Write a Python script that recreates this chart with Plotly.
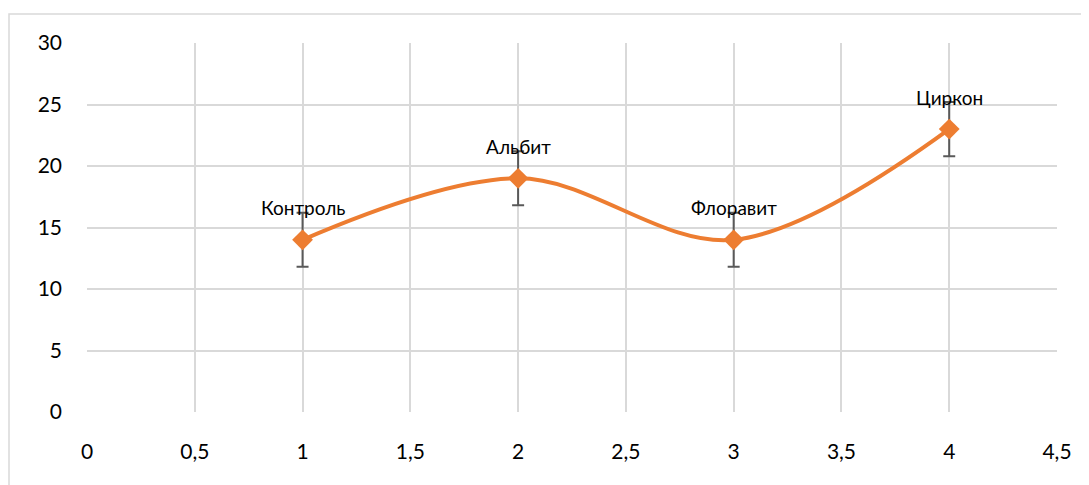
import plotly.graph_objects as go

x_vals = [1, 2, 3, 4]
y_vals = [14, 19, 14, 23]
err_vals = [2.2, 2.2, 2.2, 2.2]
labels = ["Контроль", "Альбит", "Флоравит", "Циркон"]
x_ticks = [0, 0.5, 1, 1.5, 2, 2.5, 3, 3.5, 4, 4.5]
x_tick_text = ["0", "0,5", "1", "1,5", "2", "2,5", "3", "3,5", "4", "4,5"]
y_ticks = [0, 5, 10, 15, 20, 25, 30]

OFF = 8  # page body margin
W, H = 1089 - OFF, 485 - OFF
L, R, T, B = 87 - OFF, 32, 43 - OFF, 73
pw, ph = W - L - R, H - T - B
FONT = "Lato, Open Sans, sans-serif"

fig = go.Figure()
fig.add_trace(go.Scatter(
    x=x_vals, y=y_vals, mode="lines+markers",
    line=dict(color="#ED7D31", width=4, shape="spline", smoothing=1.0),
    marker=dict(symbol="diamond", size=16, color="#ED7D31"),
    error_y=dict(type="data", array=err_vals, visible=True, color="#595959", thickness=2, width=6),
    showlegend=False, hoverinfo="skip",
))

for xv, yv, lab in zip(x_vals, y_vals, labels):
    fig.add_annotation(x=xv, y=yv, text=lab, showarrow=False, yshift=32,
                       font=dict(family=FONT, size=19, color="#000000"))

# outer chart border (top-left at page px (9,14))
fig.add_shape(type="rect", xref="paper", yref="paper",
              x0=(9 - OFF - L) / pw, x1=(W + 10 - L) / pw,
              y0=-(H + 10 - (T + ph)) / ph, y1=(T + ph - (14 - OFF)) / ph,
              line=dict(color="#d9d9d9", width=1.5), layer="below")

fig.update_layout(
    width=W, height=H,
    margin=dict(l=L, r=R, t=T, b=B),
    paper_bgcolor="white", plot_bgcolor="white",
    font=dict(family=FONT, size=21, color="#000000"),
    xaxis=dict(range=[0, 4.5], tickvals=x_ticks, ticktext=x_tick_text,
               showgrid=True, gridcolor="#d9d9d9", gridwidth=2,
               zeroline=False, showline=False, ticks="", ticklabelstandoff=25),
    yaxis=dict(range=[0, 30], tickvals=y_ticks,
               showgrid=True, gridcolor="#d9d9d9", gridwidth=2,
               zeroline=False, showline=False, ticks="", ticklabelstandoff=24),
)

fig.write_html("out.html")
